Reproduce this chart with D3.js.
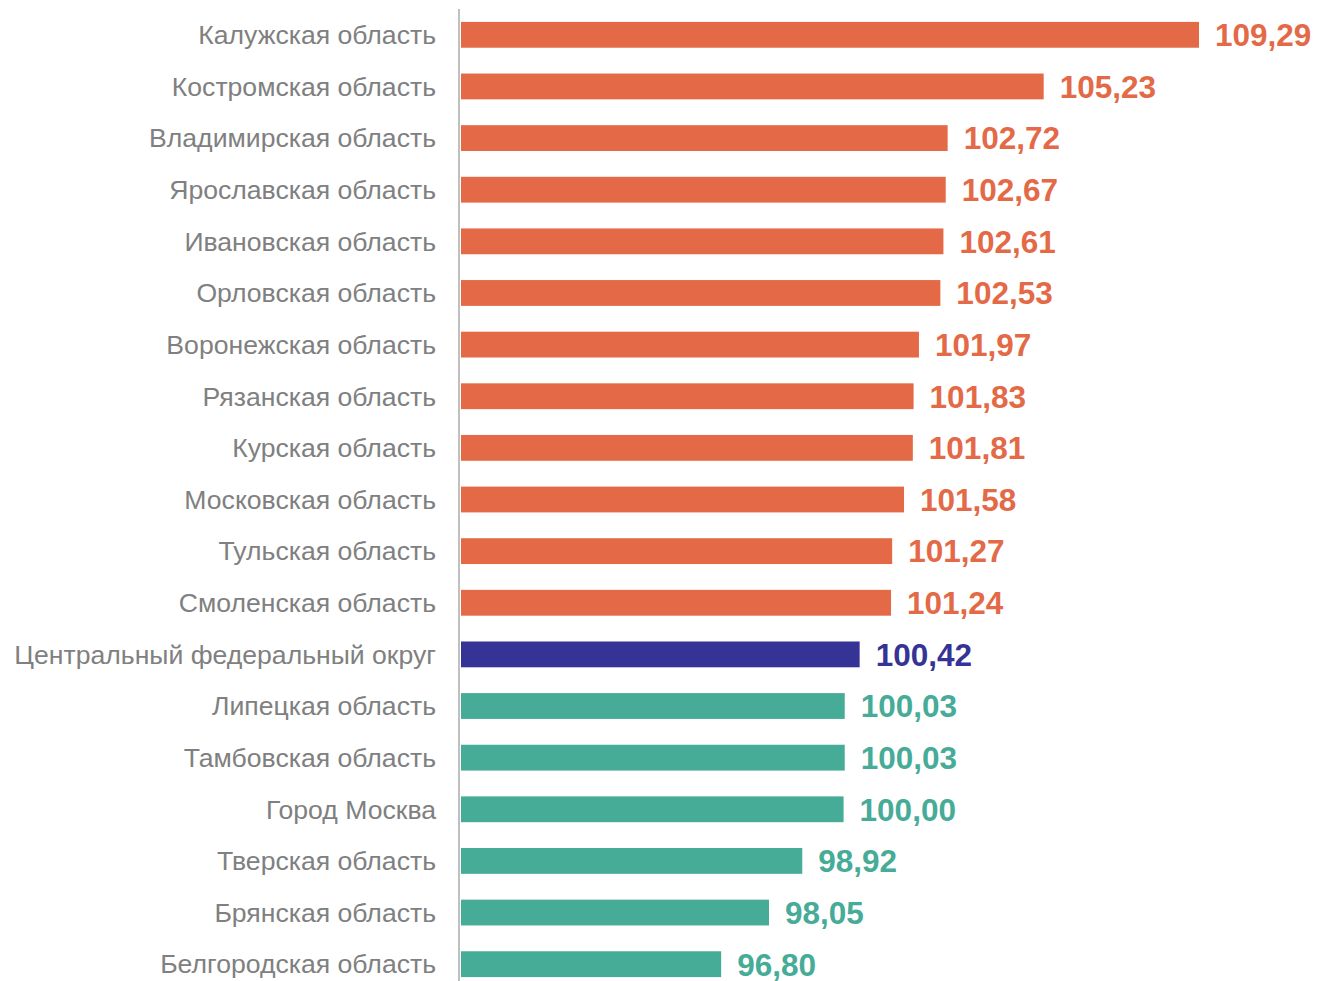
<!DOCTYPE html>
<html>
<head>
<meta charset="utf-8">
<script src="https://cdn.jsdelivr.net/npm/d3@7"></script>
<style>
  body { margin: 0; background: #fff; }
  text { font-family: "Liberation Sans", Arial, sans-serif; }
</style>
</head>
<body>
<div id="chart"></div>
<script>
const regions = [
  "Калужская область", "Костромская область", "Владимирская область",
  "Ярославская область", "Ивановская область", "Орловская область",
  "Воронежская область", "Рязанская область", "Курская область",
  "Московская область", "Тульская область", "Смоленская область",
  "Центральный федеральный округ", "Липецкая область", "Тамбовская область",
  "Город Москва", "Тверская область", "Брянская область", "Белгородская область"
];
const values = [
  109.29, 105.23, 102.72, 102.67, 102.61, 102.53, 101.97, 101.83, 101.81,
  101.58, 101.27, 101.24, 100.42, 100.03, 100.03, 100.00, 98.92, 98.05, 96.80
];
const groups = [
  "up", "up", "up", "up", "up", "up", "up", "up", "up", "up", "up", "up",
  "district", "down", "down", "down", "down", "down", "down"
];

const width = 1317, height = 981;
const left = 461;
const colors = { up: "#e36947", district: "#363397", down: "#46ab97" };

const data = regions.map((r, i) => ({ region: r, value: values[i], group: groups[i] }));

const svg = d3.select("#chart").append("svg")
  .attr("width", width)
  .attr("height", height);

const x = d3.scaleLinear()
  .domain([90, 109.29])
  .range([left, 1199]);

const y = d3.scaleBand()
  .domain(regions)
  .range([9, 990])
  .paddingInner(0.5)
  .paddingOuter(0.25);

svg.selectAll("rect.bar")
  .data(data)
  .enter()
  .append("rect")
    .attr("class", "bar")
    .attr("x", x(90))
    .attr("y", d => y(d.region))
    .attr("width", d => x(d.value) - x(90))
    .attr("height", y.bandwidth())
    .attr("fill", d => colors[d.group]);

const yAxis = svg.append("g")
  .attr("transform", "translate(459,0)")
  .call(d3.axisLeft(y).tickSize(0).tickPadding(23));
yAxis.select(".domain")
  .attr("d", "M0,9V981")
  .attr("stroke", "#c0c0c0")
  .attr("stroke-width", 2);
yAxis.selectAll(".tick text")
  .attr("fill", "#808080")
  .style("font-size", "26.6px")
  .style("font-family", "'Liberation Sans', Arial, sans-serif")
  .attr("dy", "0.35em");

const fmt = v => v.toFixed(2).replace(".", ",");

svg.selectAll("text.val")
  .data(data)
  .enter()
  .append("text")
    .attr("class", "val")
    .attr("x", d => x(d.value) + 16)
    .attr("y", d => y(d.region) + y.bandwidth() / 2)
    .attr("dy", "0.36em")
    .attr("fill", d => colors[d.group])
    .style("font-size", "31.5px")
    .style("font-weight", "bold")
    .text(d => fmt(d.value));
</script>
</body>
</html>
